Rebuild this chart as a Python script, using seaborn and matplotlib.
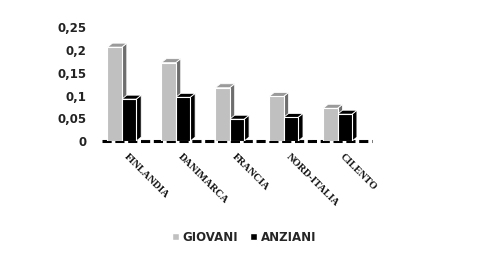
import matplotlib
matplotlib.use("Agg")
import matplotlib.pyplot as plt
import seaborn as sns
import pandas as pd
from matplotlib.patches import Polygon, Patch

categories = ["FINLANDIA", "DANIMARCA", "FRANCIA", "NORD-ITALIA", "CILENTO"]
giovani = [0.206, 0.172, 0.117, 0.098, 0.072]
anziani = [0.092, 0.096, 0.048, 0.052, 0.059]
extra = [0.0, 0.0, 0.0, 0.0, 0.0]
yticks = [0, 0.05, 0.1, 0.15, 0.2, 0.25]
ytick_labels = ["0", "0,05", "0,1", "0,15", "0,2", "0,25"]

df = pd.DataFrame({
    "cat": categories * 3,
    "val": giovani + anziani + extra,
    "serie": ["GIOVANI"] * 5 + ["ANZIANI"] * 5 + ["_"] * 5,
})

sns.set_theme(style="white")
plt.rcParams['font.family'] = ['DejaVu Sans']

fig = plt.figure(figsize=(4.93, 2.58), dpi=100)
ax = fig.add_axes([0.207, 0.453, 0.547, 0.442])

palette = {"GIOVANI": "#c0c0c0", "ANZIANI": "#000000", "_": "#000000"}
sns.barplot(data=df, x="cat", y="val", hue="serie", palette=palette,
            width=0.8, edgecolor="white", linewidth=0.8, ax=ax, legend=False,
            zorder=3)

ax.set_ylim(0, 0.25)
ax.set_xlim(-0.5, 4.5)
ax.axhline(0, color="#000000", lw=2.2, ls=(0, (3, 1.2)), zorder=1, clip_on=False)

# pseudo 3D faces from the drawn patches
dx = 5 / 54.0
dy = 0.25 / 114 * 4
side_col = {"#c0c0c0": "#6e6e6e", "#000000": "#000000"}
top_col = {"#c0c0c0": "#9a9a9a", "#000000": "#000000"}
for p in list(ax.patches):
    h = p.get_height()
    if h <= 0:
        continue
    x0 = p.get_x(); w = p.get_width()
    fc = matplotlib.colors.to_hex(p.get_facecolor())
    sc = side_col.get(fc, "#000000"); tc = top_col.get(fc, "#000000")
    side = Polygon([[x0 + w, 0], [x0 + w + dx, dy], [x0 + w + dx, h + dy], [x0 + w, h]],
                   closed=True, facecolor=sc, edgecolor="white", lw=0.6, zorder=2)
    top = Polygon([[x0, h], [x0 + dx, h + dy], [x0 + w + dx, h + dy], [x0 + w, h]],
                  closed=True, facecolor=tc, edgecolor="white", lw=0.6, zorder=2)
    ax.add_patch(side); ax.add_patch(top)

for s in ax.spines.values():
    s.set_visible(False)
ax.set_xlabel(""); ax.set_ylabel("")
ax.set_yticks(yticks)
ax.set_yticklabels(ytick_labels, fontsize=8.5, fontweight="bold", color="#222222")
ax.tick_params(axis="y", length=0, pad=11)
ax.tick_params(axis="x", length=0, pad=8)
ax.set_xticks(range(len(categories)))
ax.set_xticklabels(categories, rotation=-45, ha="left", rotation_mode="anchor",
                   fontsize=7.5, family="Liberation Serif", fontweight="bold", color="#111111")

handles = [Patch(facecolor="#c0c0c0", label="GIOVANI"),
           Patch(facecolor="#000000", label="ANZIANI")]
fig.legend(handles=handles, loc="center", bbox_to_anchor=(0.495, 0.08), ncol=2,
           frameon=False, handlelength=0.6, handleheight=0.6, handletextpad=0.3,
           columnspacing=1.0, prop={"weight": "bold", "size": 8.5})

fig.savefig("out.png", dpi=100)
